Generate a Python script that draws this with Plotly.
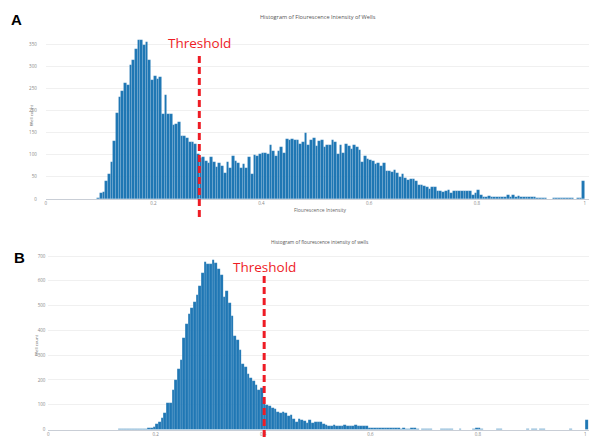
import plotly.graph_objects as go

W, H = 589, 437

# ---------------- data ----------------
BIN = 0.005
A_START = 0.095
A_COUNTS = [
    2, 14, 15, 41, 56, 83, 130, 195, 231, 245, 263,
    257, 302, 314, 339, 360, 359, 347, 355, 314, 269,
    278, 272, 275, 193, 235, 193, 191, 167, 170, 175,
    142, 142, 138, 129, 129, 124, 102, 93, 96, 85,
    81, 94, 83, 72, 81, 75, 58, 84, 71, 98,
    86, 82, 69, 79, 69, 96, 56, 99, 98, 102,
    105, 103, 102, 122, 109, 97, 109, 117, 105, 135,
    133, 136, 133, 133, 125, 128, 148, 121, 133, 138,
    119, 131, 134, 117, 121, 121, 134, 128, 102, 122,
    105, 124, 119, 113, 122, 117, 111, 83, 97, 91,
    89, 86, 78, 82, 75, 81, 63, 63, 60, 66,
    58, 49, 56, 47, 44, 46, 45, 40, 32,
    31, 29, 26, 23, 26, 28, 19, 19, 15, 18,
    20, 13, 17, 17, 19, 18, 17, 17, 18, 10,
    13, 20, 8, 5, 5, 7, 4, 4, 5, 5,
    4, 5, 10, 5, 9, 5, 6, 5, 4, 5,
    4, 4, 5, 2, 3, 3, 3, 1, 1, 2,
    2, 2, 2, 2, 3, 3, 2, 1, 2,
    2,
    40,
]

B_START = 0.13
B_COUNTS = [
    1, 1, 1, 1, 2, 2, 2, 2, 3, 3, 4, 6, 8, 11,
    21, 32, 48, 67, 105, 109, 161, 199, 246, 280,
    371, 425, 468, 492, 514, 544, 579, 632, 677, 667,
    670, 684, 673, 650, 624, 536, 560, 511, 460, 379,
    361, 320, 266, 253, 226, 207, 194, 179, 159, 167,
    125, 100, 95, 88, 82, 70, 66, 70, 68, 53,
    60, 44, 30, 44, 38, 34, 27, 38, 27, 32,
    32, 32, 22, 20, 16, 16, 17, 15, 16, 16,
    17, 14, 16, 16, 17, 15, 14, 14, 14, 8,
    5, 5, 7, 8, 7, 7, 5, 5, 7, 5,
    7, 4, 5, 4, 4, 5, 7, 4, 0, 4,
    3, 4, 3, 0, 0, 0, 4, 3, 4, 4,
    3, 0, 0, 4, 0, 0, 0, 0, 3, 8,
    8, 3, 0, 0, 0, 0, 0, 3, 3, 0,
    0, 0, 0, 0, 0, 0, 0, 0, 4, 0,
    4, 4, 0, 4, 3, 0, 0, 0, 0, 0,
    0, 0, 0, 0, 4, 0, 0, 0, 0, 0,
    38,
]

A_THRESHOLD = 0.285
B_THRESHOLD = 0.402

X_TICKS = [0, 0.2, 0.4, 0.6, 0.8, 1]
X_TICK_LABELS = ["0", "0.2", "0.4", "0.6", "0.8", "1"]
A_Y_TICKS = [0, 50, 100, 150, 200, 250, 300, 350]
B_Y_TICKS = [0, 100, 200, 300, 400, 500, 600, 700]

A_TITLE = "Histogram of Flourescence Intensity of Wells"
B_TITLE = "Histogram of flourescence intensity of wells"
A_XTITLE = "Flourescence Intensity"
Y_TITLE = "Well count"

# ---------------- helpers ----------------
def px(x):
    return x / W


def py(y):
    return 1 - y / H


def centers(start, n):
    return [start + BIN * (i + 0.5) for i in range(n)]


BAR_COLOR = "#1f77b4"
RED = "#ee1c25"
FONT = "Open Sans"

fig = go.Figure()
for cnts, start, xa, ya in [(A_COUNTS, A_START, "x", "y"), (B_COUNTS, B_START, "x2", "y2")]:
    fig.add_trace(go.Bar(
        x=centers(start, len(cnts)), y=cnts, width=BIN,
        marker=dict(color=BAR_COLOR, line=dict(color="rgba(255,255,255,0.3)", width=0.3)),
        xaxis=xa, yaxis=ya, showlegend=False,
    ))

tickfont = dict(family=FONT, size=4.5, color="#888888")
common_x = dict(tickvals=X_TICKS, ticktext=X_TICK_LABELS, tickfont=tickfont,
                showgrid=False, zeroline=False, showline=True, automargin=False,
                linecolor="#c9ced6", linewidth=1, ticks="", fixedrange=True)
common_y = dict(tickfont=tickfont, showgrid=True, gridcolor="#f0f0f0", gridwidth=1,
                zeroline=False, showline=False, automargin=False, fixedrange=True)

A_X0, A_PXU = 45.7, 539.0   # pixel of x=0, pixels per unit (panel A)
B_X0, B_PXU = 48.3, 537.0
A_BASE, A_TOP = 199.0, 33.0
B_BASE, B_TOP = 429.5, 251.0

fig.update_layout(
    template="none",
    width=W, height=H,
    margin=dict(l=0, r=0, t=0, b=0, pad=0),
    paper_bgcolor="white", plot_bgcolor="white",
    bargap=0,
    xaxis=dict(domain=[px(A_X0), 1], range=[0, (W - A_X0) / A_PXU], anchor="y", **common_x),
    yaxis=dict(domain=[py(A_BASE), py(A_TOP)], range=[0, (A_BASE - A_TOP) / 0.4427], anchor="x",
               tickvals=A_Y_TICKS, ticks="outside", ticklen=7,
               tickcolor="rgba(0,0,0,0)", **common_y),
    xaxis2=dict(domain=[px(B_X0), 1], range=[0, (W - B_X0) / B_PXU], anchor="y2", **common_x),
    yaxis2=dict(domain=[py(B_BASE), py(B_TOP)], range=[0, (B_BASE - B_TOP) / 0.2477], anchor="x2",
                tickvals=B_Y_TICKS, ticks="outside", ticklen=1,
                tickcolor="rgba(0,0,0,0)", **common_y),
    showlegend=False,
)

# threshold lines
fig.add_shape(type="line", xref="x", yref="paper",
              x0=A_THRESHOLD, x1=A_THRESHOLD, y0=py(217), y1=py(52),
              line=dict(color=RED, width=3, dash="7px,4px"))
fig.add_shape(type="line", xref="x2", yref="paper",
              x0=B_THRESHOLD, x1=B_THRESHOLD, y0=py(437), y1=py(275),
              line=dict(color=RED, width=3, dash="7px,4px"))


def label(text, xref, x, y, size, color, family=FONT, angle=0):
    return dict(text=text, xref=xref, yref="paper", x=x, y=y, showarrow=False,
                xanchor="center", yanchor="middle", textangle=angle,
                font=dict(family=family, size=size, color=color))


ann = [
    label("Threshold", "x", A_THRESHOLD, py(43), 13.5, RED),
    label("Threshold", "x2", B_THRESHOLD, py(267), 13.5, RED),
    label("<b>A</b>", "paper", px(16.5), py(20), 15, "black", "Liberation Sans"),
    label("<b>B</b>", "paper", px(19.5), py(257), 15, "black", "Liberation Sans"),
    label(A_TITLE, "paper", px(318), py(17), 5.6, "#555555"),
    label(B_TITLE, "paper", px(320), py(242), 4.8, "#555555"),
    label(A_XTITLE, "paper", px(320), py(210), 5, "#666666"),
    label(Y_TITLE, "paper", px(31), py(115), 4.3, "#666666", angle=-90),
    label(Y_TITLE, "paper", px(36), py(345), 4.3, "#666666", angle=-90),
]
fig.update_layout(annotations=ann)

fig.write_html("out.html", config={"displayModeBar": False},
               post_script="document.body.style.margin='0';document.body.style.overflow='hidden';")
